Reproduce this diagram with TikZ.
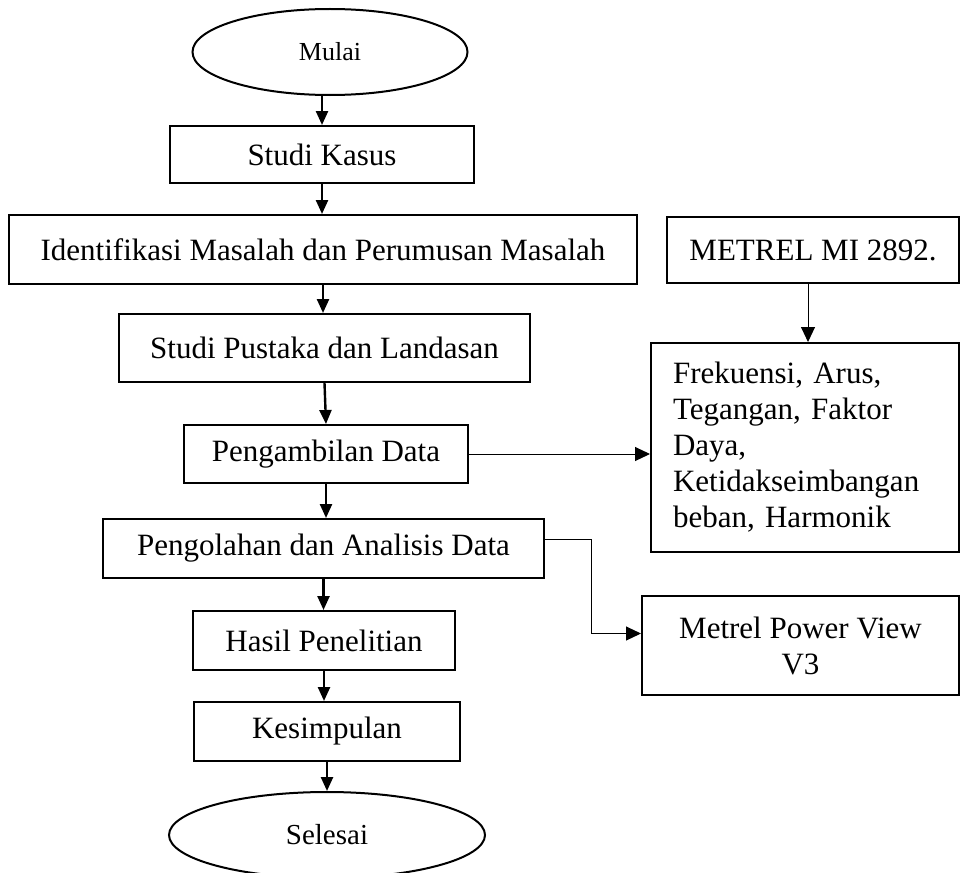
\documentclass[tikz,border=0pt]{standalone}
\usepackage{fontspec}
\setmainfont{Liberation Serif}
\usetikzlibrary{arrows.meta,positioning,shapes.geometric}

\begin{document}
\begin{tikzpicture}[
    x=0.5pt, y=-0.5pt, box/.style={rectangle, draw, line width=1pt, inner sep=0pt, font=\fontsize{15.5}{18}\selectfont}, oval/.style={ellipse, draw, line width=1pt, inner sep=0pt}, arrow/.style={-{Triangle[length=7pt,width=6pt]}, line width=1.2pt}, thinarrow/.style={-{Triangle[length=7.5pt,width=7pt]}, line width=0.5pt}
]
\useasboundingbox (0,0) rectangle (961,872);
\node[oval, minimum width=137.5pt, minimum height=43pt, font=\fontsize{13}{15}\selectfont] (mulai) at (330,52) {Mulai};
\node[box, minimum width=152pt, minimum height=28.5pt] (kasus) at (322,154.5) {Studi Kasus};
\node[box, minimum width=314pt, minimum height=34.5pt] (identifikasi) at (323,249.5) {Identifikasi Masalah dan Perumusan Masalah};
\node[box, minimum width=146pt, minimum height=33pt] (metrel) at (813,250) {METREL MI 2892.};
\node[box, minimum width=205.5pt, minimum height=34pt] (pustaka) at (324.5,348) {Studi Pustaka dan Landasan};
\node[box, minimum width=154pt, minimum height=104.5pt, text width=132pt, align=left] (parameter) at (805,447.5) {Frekuensi, Arus,\\Tegangan, Faktor\\Daya,\\Ketidakseimbangan\\beban, Harmonik};
\node[box, minimum width=142pt, minimum height=29pt] (pengambilan) at (326,454) {Pengambilan Data};
\node[box, minimum width=220.5pt, minimum height=29.5pt] (pengolahan) at (323.5,548.5) {Pengolahan dan Analisis Data};
\node[box, minimum width=158.5pt, minimum height=49.5pt, align=center] (powerview) at (800.5,645.5) {Metrel Power View\\V3};
\node[box, minimum width=131pt, minimum height=29.5pt] (hasil) at (324,640.5) {Hasil Penelitian};
\node[box, minimum width=133pt, minimum height=29.5pt] (kesimpulan) at (327,731.5) {Kesimpulan};
\node[oval, minimum width=158pt, minimum height=43pt, font=\fontsize{14.5}{17}\selectfont] (selesai) at (327,835) {Selesai};
\draw[arrow] (kasus |- mulai.south) -- (kasus.north);
\draw[arrow] (kasus.south) -- (kasus.south |- identifikasi.north);
\draw[arrow] (identifikasi.south) -- (identifikasi.south |- pustaka.north);
\draw[arrow] (pustaka.south) -- (pengambilan.north);
\draw[arrow] (pengambilan.south) -- (pengambilan.south |- pengolahan.north);
\draw[arrow] (pengolahan.south) -- (pengolahan.south |- hasil.north);
\draw[arrow] (hasil.south) -- (hasil.south |- kesimpulan.north);
\draw[arrow] (kesimpulan.south) -- (kesimpulan.south |- selesai.north);
\draw[thinarrow] ([xshift=-2.5pt]metrel.south) -- ([xshift=-2.5pt]metrel.south |- parameter.north);
\draw[thinarrow] (pengambilan.east) -- (pengambilan.east -| parameter.west);
\draw[thinarrow] ([yshift=4.5pt]pengolahan.east) -- ++(23pt,0) |- ([yshift=6pt]powerview.west);
\end{tikzpicture}
\end{document}
